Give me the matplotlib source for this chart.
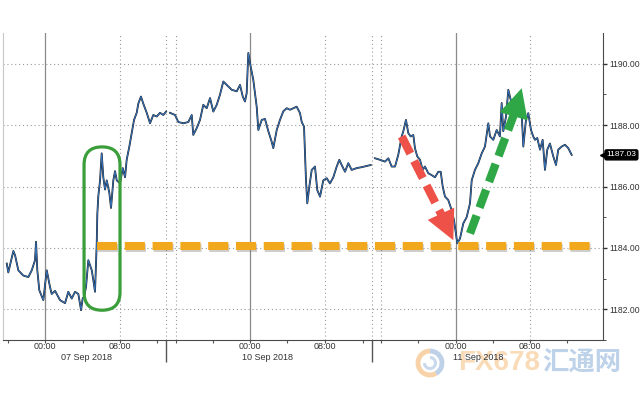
import numpy as np
import matplotlib.pyplot as plt
import matplotlib.patheffects as pe
from matplotlib.patches import FancyBboxPatch, FancyArrowPatch, Arc

plt.rcParams['font.family'] = ['Liberation Sans', 'DejaVu Sans']

# x = trading-time hours from 07 Sep 00:00 (weekend and daily breaks squeezed out)
s1_hours = [-4.47, -4.29, -3.70, -3.50, -3.12, -2.54, -1.95, -1.55, -1.17, -1.05, -0.90, -0.67,
            -0.20, 0.20, 0.58, 0.78, 1.17, 1.75, 2.34, 2.72, 3.12, 3.50, 3.89, 4.21, 4.40, 4.56,
            4.79, 5.06, 5.46, 5.67, 5.84, 6.04, 6.11, 6.23, 6.43, 6.62, 6.81, 7.01, 7.21, 7.51,
            7.71, 7.98, 8.18, 8.38, 8.76, 9.08, 9.35, 9.54, 9.85, 10.13, 10.40, 10.71, 10.90,
            11.21, 11.48, 11.88, 12.27, 12.65, 13.05, 13.43, 13.82, 14.14]
s1_prices = [1183.49, 1183.20, 1183.90, 1183.76, 1183.27, 1183.10, 1183.05, 1183.27, 1183.60,
             1184.20, 1183.27, 1182.62, 1182.30, 1183.27, 1182.73, 1182.50, 1182.60, 1182.30,
             1182.20, 1182.57, 1182.35, 1182.57, 1182.50, 1181.97, 1182.36, 1182.40, 1182.73,
             1183.60, 1183.27, 1182.90, 1182.57, 1184.15, 1185.10, 1185.70, 1186.20, 1187.08,
             1186.30, 1185.90, 1186.20, 1185.80, 1185.30, 1186.20, 1186.50, 1186.20, 1186.10,
             1186.60, 1186.30, 1186.87, 1187.30, 1187.74, 1188.17, 1188.40, 1188.70, 1188.93,
             1188.70, 1188.40, 1188.06, 1188.33, 1188.28, 1188.40, 1188.33, 1188.44]

s2_hours = [14.60, 15.19, 15.57, 16.16, 16.74, 17.14, 17.32, 17.72, 18.11, 18.49, 18.89, 19.28,
            19.66, 20.06, 20.44, 20.83, 21.23, 21.81, 22.40, 22.78, 23.10, 23.36, 23.56, 23.75,
            24.03, 24.33, 24.73, 24.92, 25.32, 25.70, 26.09, 26.48, 26.67, 27.07, 27.45, 27.84,
            28.24, 28.62, 29.01, 29.40, 29.79, 29.99, 30.26, 30.49, 30.64, 30.88, 31.16, 31.54,
            31.81, 32.13, 32.51, 32.91, 33.29, 33.68, 34.08, 34.38, 34.66, 35.05, 35.43, 35.83,
            36.41, 37.00, 37.58, 38.05]
s2_prices = [1188.40, 1188.33, 1188.10, 1188.06, 1188.10, 1188.33, 1187.68, 1187.90, 1188.17,
             1188.66, 1188.55, 1188.88, 1188.44, 1188.66, 1188.99, 1189.42, 1189.31, 1189.15,
             1189.10, 1189.31, 1188.93, 1188.77, 1189.04, 1190.35, 1189.90, 1189.48, 1188.60,
             1187.84, 1188.17, 1188.20, 1187.80, 1187.46, 1187.25, 1187.84, 1188.17, 1188.45,
             1188.55, 1188.50, 1188.55, 1188.60, 1188.39, 1188.10, 1187.95, 1186.20, 1185.45,
             1186.00, 1186.54, 1186.65, 1185.88, 1185.67, 1186.20, 1186.27, 1186.10, 1186.30,
             1186.65, 1186.87, 1186.70, 1186.48, 1186.76, 1186.54, 1186.60, 1186.63, 1186.67,
             1186.70]

s3_hours = [38.55, 39.14, 39.72, 40.11, 40.50, 40.89, 41.27, 41.67, 41.86, 42.17, 42.44, 42.72,
            43.03, 43.22, 43.49, 43.81, 44.12, 44.39, 44.78, 45.18, 45.56, 45.95, 46.23, 46.46,
            46.73, 47.11, 47.51, 47.78, 48.01, 48.17, 48.48, 48.87, 49.26, 49.65, 49.85, 50.23,
            50.62, 51.02, 51.40, 51.79, 51.99, 52.37, 52.77, 53.15, 53.35, 53.54, 53.86, 54.13,
            54.41, 54.71, 55.11, 55.49, 55.69, 55.88, 56.19, 56.46, 56.78, 57.04, 57.24, 57.51,
            57.83, 58.14, 58.41, 58.68, 58.99, 59.38, 59.70, 59.96, 60.36, 60.75, 61.13, 61.53]
s3_prices = [1186.92, 1186.87, 1186.81, 1186.92, 1186.65, 1186.65, 1187.03, 1187.63, 1187.80,
             1188.17, 1187.74, 1187.63, 1187.68, 1187.25, 1186.98, 1186.87, 1186.54, 1186.65,
             1186.43, 1186.37, 1186.30, 1186.48, 1186.48, 1186.00, 1185.67, 1185.56, 1185.23,
             1184.90, 1184.47, 1184.15, 1184.30, 1184.80, 1185.00, 1185.45, 1186.20, 1186.54,
             1186.76, 1187.08, 1187.30, 1188.06, 1187.63, 1187.52, 1187.84, 1187.63, 1188.72,
             1187.80, 1188.28, 1189.15, 1188.82, 1188.72, 1188.93, 1188.72, 1188.39, 1187.30,
             1188.17, 1188.39, 1187.84, 1187.63, 1187.52, 1187.58, 1187.20, 1187.52, 1186.54,
             1187.20, 1187.40, 1186.98, 1186.70, 1187.20, 1187.30, 1187.36, 1187.25, 1187.03]

last_price = 1187.03
support_level = 1184.05
support_span = [6.07, 64.0]
red_arrow = [(41.67, 1187.63), (46.33, 1185.07), (47.70, 1184.25)]   # start, head base, tip
green_arrow = [(49.65, 1184.47), (54.90, 1188.44), (55.69, 1189.20)]
highlight_box = [4.56, 1181.97, 4.20, 5.32]   # x, y, width, height

day_starts = [0, 23.95, 48.01]
morning_lines = [8.76, 32.71, 56.66]
break_lines = [14.14, 15.30, 38.2, 39.25]
long_ticks = [14.14, 38.2]
minor_ticks = [-4.32, 0, 4.44, 8.76, 13.08, 15.30, 19.63, 23.95, 28.27, 32.71, 37.15, 39.25,
               43.57, 48.01, 52.34, 56.66, 60.98]
time_pos = [0, 8.76, 23.95, 32.71, 48.01, 56.66]
time_labels = ['00:00', '08:00', '00:00', '08:00', '00:00', '08:00']
day_pos = [4.79, 26.05, 50.58]
day_labels = ['07 Sep 2018', '10 Sep 2018', '11 Sep 2018']
price_ticks = [1182, 1184, 1186, 1188, 1190]

hours = np.concatenate([s1_hours, [np.nan], s2_hours, [np.nan], s3_hours])
prices = np.concatenate([s1_prices, [np.nan], s2_prices, [np.nan], s3_prices])

fig = plt.figure(figsize=(6.4, 4.0), dpi=100)
ax = fig.add_axes([3 / 640, 60 / 400, 600 / 640, 307 / 400])
ax.set_zorder(2)
ax.set_xlim(-4.91, 65.19)
ax.set_ylim(1181.0, 1191.0)

# grid
for y in price_ticks:
    ax.axhline(y, color='#9a9a9a', lw=0.8, ls=(0, (1, 2.5)), zorder=1)
for x in morning_lines + break_lines:
    ax.axvline(x, color='#9a9a9a', lw=0.8, ls=(0, (1, 2.5)), zorder=1)
for x in day_starts:
    ax.axvline(x, color='#8a8a8a', lw=0.9, zorder=1)

# price
ax.plot(hours, prices, color='#1c1c1c', lw=1.3, zorder=3)
ax.plot(hours, prices, color='#3574bf', lw=0.7, zorder=4)

# support line
ax.plot(support_span, [support_level, support_level], color='#f2a81d', lw=5.8,
        dashes=(2.5, 0.95), solid_capstyle='butt', zorder=5,
        path_effects=[pe.SimpleLineShadow(offset=(0.8, -1.2), shadow_color='#777777', alpha=0.35),
                      pe.Normal()])

# highlight box
bx, by, bw, bh = highlight_box
ax.add_patch(FancyBboxPatch((bx, by), bw, bh, boxstyle='round,pad=0,rounding_size=2.1',
                            mutation_aspect=0.279, fill=False, ec='#3a9e3a', lw=2.3, zorder=6))

# dashed arrows
for pts, col in [(red_arrow, '#ee5148'), (green_arrow, '#2fa746')]:
    (x0, y0), (x1, y1), (x2, y2) = pts
    ax.plot([x0, x1], [y0, y1], color=col, lw=6, dashes=(2.3, 1.0),
            solid_capstyle='butt', zorder=7)
    ax.add_patch(FancyArrowPatch((x1, y1), (x2, y2),
                                 arrowstyle='simple,head_length=1.0,head_width=1.0,tail_width=0.1',
                                 mutation_scale=21, color=col, lw=0, zorder=7,
                                 shrinkA=0, shrinkB=0))

# axes styling
ax.spines['top'].set_visible(False)
ax.spines['left'].set_color('#c8c8c8')
ax.spines['right'].set_color('#4a4a4a')
ax.spines['bottom'].set_color('#4a4a4a')

ax.yaxis.tick_right()
ax.set_yticks(price_ticks)
ax.set_yticklabels([f'{v:.2f}' for v in price_ticks])
ax.set_yticks([1181 + 2 * i for i in range(5)], minor=True)
ax.tick_params(axis='y', which='major', length=3, width=1, color='#333333',
               labelsize=6.2, labelcolor='#333333', pad=1.5)
ax.tick_params(axis='y', which='minor', length=2, color='#333333')

ax.set_xticks(long_ticks)
ax.set_xticklabels([])
ax.set_xticks(minor_ticks, minor=True)
ax.tick_params(axis='x', which='major', length=16, width=1, color='#555555')
ax.tick_params(axis='x', which='minor', length=2.5, width=0.8, color='#555555')

for x, t in zip(time_pos, time_labels):
    ax.annotate(t, xy=(x, 0), xycoords=('data', 'axes fraction'), xytext=(0, -5),
                textcoords='offset points', ha='center', va='center', fontsize=6.5,
                color='#333333', annotation_clip=False)
for x, t in zip(day_pos, day_labels):
    ax.annotate(t, xy=(x, 0), xycoords=('data', 'axes fraction'), xytext=(0, -12.3),
                textcoords='offset points', ha='center', va='center', fontsize=6.5,
                color='#333333', annotation_clip=False)

# last price tag
ax.plot([1.0], [last_price], marker='<', ms=4.5, color='black',
        transform=ax.get_yaxis_transform(), clip_on=False, zorder=9)
ax.annotate(f'{last_price:.2f}', xy=(1.0, last_price), xycoords=ax.get_yaxis_transform(),
            xytext=(2.5, 0), textcoords='offset points', ha='left', va='center',
            fontsize=6.0, color='white', annotation_clip=False, zorder=10,
            bbox=dict(boxstyle='round,pad=0.18,rounding_size=0.2', fc='black', ec='black'))

# watermark (behind the axes)
cx, cy = 430 / 640, 1 - 363 / 400
for arc in [Arc((cx, cy), 24 / 640, 24 / 400, theta1=90, theta2=290, color='#f6c58e', lw=3.5),
            Arc((cx, cy), 24 / 640, 24 / 400, theta1=-70, theta2=90, color='#a8c2e2', lw=3.5),
            Arc((cx, cy), 11 / 640, 11 / 400, theta1=180, theta2=450, color='#b9cde6', lw=2.2)]:
    arc.set_alpha(0.75)
    arc.set_zorder(1)
    fig.add_artist(arc)
fig.text(458 / 640, cy, 'FX678', fontsize=20, fontweight='bold', color='#f8cc9a',
         alpha=0.7, ha='left', va='center', zorder=1)
fig.text(542 / 640, cy, '汇通网', fontsize=19, fontweight='bold', color='#a9c3e4',
         alpha=0.75, ha='left', va='center', zorder=1, family=['Noto Sans CJK SC', 'DejaVu Sans'])

fig.savefig('out.png', dpi=100)
